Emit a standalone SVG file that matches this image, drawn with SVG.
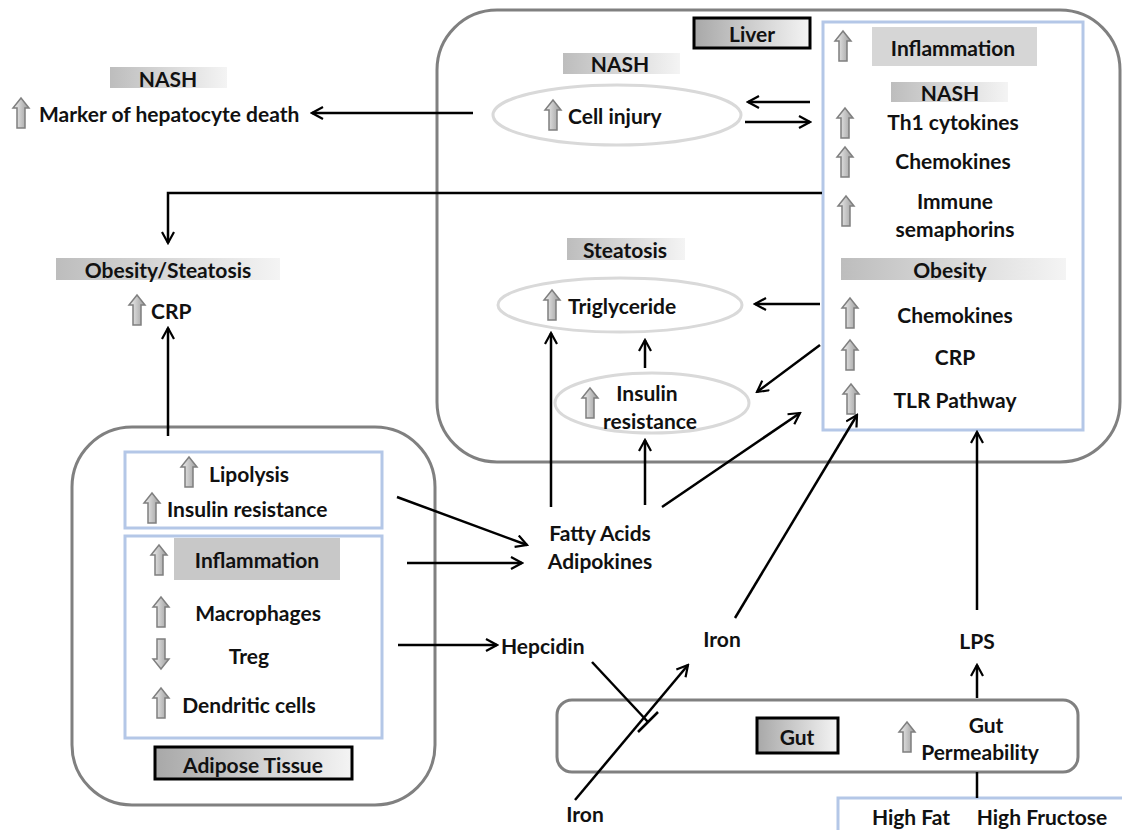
<svg xmlns="http://www.w3.org/2000/svg" xmlns:xlink="http://www.w3.org/1999/xlink" width="1122" height="830" viewBox="0 0 1122 830">
<style>
.t{font-family:"Lato","Liberation Sans",sans-serif;font-weight:bold;font-size:21px;fill:#111;text-anchor:middle;dominant-baseline:central}
.s{text-anchor:start}
.box{fill:none;stroke:#808080;stroke-width:3}
.blue{fill:#fff;stroke:#b4c7e7;stroke-width:3}
.ell{fill:none;stroke:#d9d9d9;stroke-width:3}
.lbl{fill:url(#lg);stroke:#000;stroke-width:3}
.bar{fill:url(#bg)}
.c{fill:none;stroke:#000;stroke-width:2.5}
.a{marker-end:url(#ah)}
</style>
<defs>
<linearGradient id="bg" x1="0" x2="1" y1="0" y2="0"><stop offset="0" stop-color="#bdbdbd"/><stop offset="1" stop-color="#f4f4f4"/></linearGradient>
<linearGradient id="lg" x1="0" x2="1" y1="0" y2="0"><stop offset="0" stop-color="#a8a8a8"/><stop offset="1" stop-color="#f4f4f4"/></linearGradient>
<linearGradient id="ag" x1="0" x2="1" y1="0" y2="0"><stop offset="0" stop-color="#f2f2f2"/><stop offset="1" stop-color="#9a9a9a"/></linearGradient>
<path id="up" d="M0,0 L8,10 L4,10 L4,30 L-4,30 L-4,10 L-8,10 Z" fill="url(#ag)" stroke="#7f7f7f" stroke-width="1.5"/>
<path id="dn" d="M0,30 L8,20 L4,20 L4,0 L-4,0 L-4,20 L-8,20 Z" fill="url(#ag)" stroke="#7f7f7f" stroke-width="1.5"/>
<marker id="ah" viewBox="0 0 14 14" refX="12" refY="7" markerWidth="14" markerHeight="14" markerUnits="userSpaceOnUse" orient="auto"><path d="M1,1 L12,7 L1,13" fill="none" stroke="#000" stroke-width="2.2"/></marker>
</defs>

<g id="liver">
<rect class="box" x="437" y="10" width="683" height="452" rx="60"/>
<rect class="lbl" x="694" y="18" width="116" height="30"/>
<text class="t" x="752" y="33">Liver</text>
</g>

<g id="nash-cell-injury">
<rect class="bar" x="563" y="53" width="117" height="21"/>
<text class="t" x="620" y="63">NASH</text>
<ellipse class="ell" cx="617" cy="115" rx="124" ry="30"/>
<use href="#up" x="553" y="100"/>
<text class="t s" x="568" y="115">Cell injury</text>
</g>

<g id="liver-inflammation">
<rect class="blue" x="823" y="22" width="260" height="408"/>
<use href="#up" x="843" y="31"/>
<rect x="872" y="27" width="165" height="39" fill="#d6d6d6"/>
<text class="t" x="953" y="47">Inflammation</text>
<rect class="bar" x="891" y="82" width="117" height="20"/>
<text class="t" x="950" y="92">NASH</text>
<use href="#up" x="845" y="108"/>
<text class="t" x="953" y="121">Th1 cytokines</text>
<use href="#up" x="845" y="147"/>
<text class="t" x="953" y="160">Chemokines</text>
<use href="#up" x="846" y="196"/>
<text class="t" x="955" y="200">Immune</text>
<text class="t" x="955" y="228">semaphorins</text>
<rect class="bar" x="841" y="258" width="225" height="22"/>
<text class="t" x="950" y="269">Obesity</text>
<use href="#up" x="850" y="298"/>
<text class="t" x="955" y="314">Chemokines</text>
<use href="#up" x="850" y="340"/>
<text class="t" x="955" y="356">CRP</text>
<use href="#up" x="851" y="384"/>
<text class="t" x="955" y="399">TLR Pathway</text>
</g>

<g id="steatosis-triglyceride">
<rect class="bar" x="567" y="238" width="118" height="22"/>
<text class="t" x="625" y="249">Steatosis</text>
<ellipse class="ell" cx="620" cy="305" rx="122" ry="27"/>
<use href="#up" x="552" y="290"/>
<text class="t s" x="568" y="305">Triglyceride</text>
</g>

<g id="liver-insulin-resistance">
<ellipse class="ell" cx="652" cy="403" rx="97" ry="30"/>
<use href="#up" x="590" y="388"/>
<text class="t" x="647" y="392">Insulin</text>
<text class="t" x="650" y="420">resistance</text>
</g>

<g id="nash-marker">
<rect class="bar" x="110" y="67" width="117" height="21"/>
<text class="t" x="168" y="78">NASH</text>
<use href="#up" x="21" y="98"/>
<text class="t s" x="39" y="113">Marker of hepatocyte death</text>
</g>

<g id="obesity-crp">
<rect class="bar" x="56" y="258" width="224" height="22"/>
<text class="t" x="168" y="269">Obesity/Steatosis</text>
<use href="#up" x="137" y="295"/>
<text class="t s" x="151" y="310">CRP</text>
</g>

<g id="adipose">
<rect class="box" x="72" y="427" width="363" height="378" rx="60"/>
<rect class="blue" x="125" y="452" width="257" height="76"/>
<use href="#up" x="189" y="457"/>
<text class="t s" x="209" y="473">Lipolysis</text>
<use href="#up" x="152" y="493"/>
<text class="t s" x="167" y="508">Insulin resistance</text>
<rect class="blue" x="125" y="536" width="257" height="202"/>
<use href="#up" x="159" y="545"/>
<rect x="174" y="538" width="166" height="42" fill="#c8c8c8"/>
<text class="t" x="257" y="559">Inflammation</text>
<use href="#up" x="161" y="597"/>
<text class="t" x="258" y="612">Macrophages</text>
<use href="#dn" x="161" y="639"/>
<text class="t" x="249" y="655">Treg</text>
<use href="#up" x="161" y="688"/>
<text class="t" x="249" y="704">Dendritic cells</text>
<rect class="lbl" x="155" y="747" width="197" height="32"/>
<text class="t" x="253" y="764">Adipose Tissue</text>
</g>

<g id="fatty-acids">
<text class="t" x="600" y="532">Fatty Acids</text>
<text class="t" x="600" y="560">Adipokines</text>
</g>
<g id="hepcidin"><text class="t s" x="501" y="645">Hepcidin</text></g>
<g id="iron-mid"><text class="t" x="722" y="638">Iron</text></g>
<g id="iron-low"><text class="t" x="585" y="813">Iron</text></g>
<g id="lps"><text class="t" x="977" y="640">LPS</text></g>

<g id="gut">
<rect class="box" x="557" y="700" width="521" height="72" rx="15"/>
<rect class="lbl" x="757" y="718" width="81" height="35"/>
<text class="t" x="797" y="736">Gut</text>
<use href="#up" x="907" y="722"/>
<text class="t" x="986" y="724">Gut</text>
<text class="t" x="980" y="751">Permeability</text>
</g>

<g id="diet">
<rect class="blue" x="838" y="798" width="300" height="50"/>
<text class="t" x="911" y="816">High Fat</text>
<text class="t" x="1042" y="816">High Fructose</text>
</g>

<g id="connectors">
<line class="c a" x1="473" y1="113" x2="312" y2="113"/>
<line class="c a" x1="810" y1="102" x2="748" y2="102"/>
<line class="c a" x1="745" y1="122" x2="810" y2="122"/>
<polyline class="c a" points="822,193 168,193 168,243"/>
<line class="c a" x1="168" y1="436" x2="168" y2="328"/>
<line class="c a" x1="820" y1="304" x2="755" y2="304"/>
<line class="c a" x1="820" y1="345" x2="757" y2="392"/>
<line class="c a" x1="645" y1="368" x2="645" y2="340"/>
<line class="c a" x1="551" y1="507" x2="551" y2="333"/>
<line class="c a" x1="645" y1="505" x2="645" y2="440"/>
<line class="c a" x1="662" y1="507" x2="800" y2="413"/>
<line class="c a" x1="397" y1="497" x2="527" y2="545"/>
<line class="c a" x1="407" y1="563" x2="522" y2="563"/>
<line class="c a" x1="398" y1="645" x2="497" y2="645"/>
<line class="c" x1="592" y1="662" x2="648" y2="722"/>
<line class="c" x1="638" y1="732" x2="658" y2="712"/>
<line class="c a" x1="575" y1="800" x2="688" y2="665"/>
<line class="c a" x1="735" y1="618" x2="857" y2="415"/>
<line class="c a" x1="977" y1="610" x2="977" y2="432"/>
<line class="c a" x1="977" y1="698" x2="977" y2="665"/>
<line class="c" x1="977" y1="772" x2="977" y2="798"/>
</g>
</svg>
